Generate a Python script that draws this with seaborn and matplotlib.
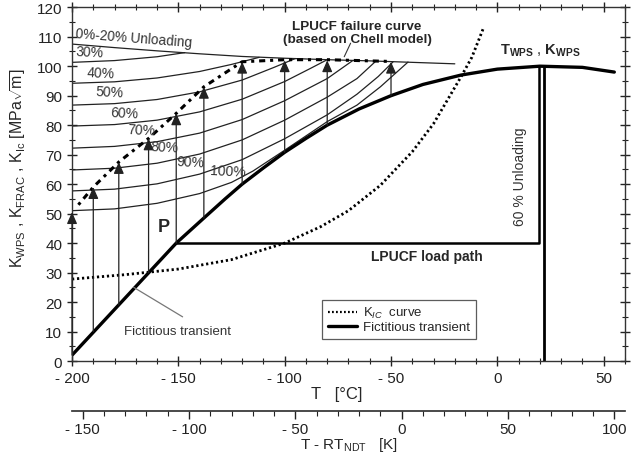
import numpy as np
import pandas as pd
import matplotlib
matplotlib.use("Agg")
import matplotlib.pyplot as plt
import seaborn as sns
from matplotlib.ticker import MultipleLocator, FuncFormatter, FixedLocator
from matplotlib.lines import Line2D

sns.set_theme(style="white")
plt.rcParams["font.family"] = ["Liberation Sans", "DejaVu Sans"]
plt.rcParams["mathtext.fontset"] = "custom"
plt.rcParams["mathtext.rm"] = "Liberation Sans"
plt.rcParams["mathtext.it"] = "Liberation Sans:italic"
plt.rcParams["mathtext.bf"] = "Liberation Sans:bold"

# ---------------- data ----------------
RT_NDT = -45.0

# fictitious transient (thick solid)
trans_T = [-200, -151, -138, -128, -120, -110, -100, -90, -80, -65, -50, -35, -17, 0, 20, 40, 55]
trans_K = [2, 40, 48.5, 55, 60, 65.5, 70.8, 75.5, 80, 85.5, 90, 93.8, 97, 99, 100, 99.6, 98]

# K_IC curve (dotted)
kic_T = [-200, -175, -150, -125, -100, -83, -70, -55, -40, -30, -17, -12, -6.5]
kic_K = [27.8, 29.3, 31.2, 34.4, 40, 45.6, 51, 59.6, 71, 80.5, 96.5, 103, 113]

# 0%-20% unloading envelope
env_T = [-200, -180, -160, -140, -120, -100, -80, -60, -40, -20]
env_K = [107.5, 106.3, 105.2, 104.2, 103.3, 102.7, 102.2, 101.8, 101.3, 100.8]

# unloading curves
u30_T = [-200, -180, -160, -147]
u30_K = [101.3, 101.9, 103.2, 104.6]
u40_T = [-200, -180, -160, -140, -125, -112]
u40_K = [94.2, 94.7, 96.0, 98.2, 100.6, 103.0]
u50_T = [-200, -180, -160, -140, -120, -105, -95]
u50_K = [86.8, 87.3, 88.7, 91.3, 95.3, 99.6, 102.6]
u60_T = [-200, -180, -160, -140, -120, -100, -88, -80]
u60_K = [79.7, 80.2, 81.7, 84.5, 88.8, 94.8, 99.2, 102.2]
u70_T = [-200, -180, -160, -140, -120, -100, -80, -68]
u70_K = [72.2, 72.8, 74.4, 77.3, 81.9, 88.3, 95.8, 101.9]
u80_T = [-200, -180, -160, -140, -120, -100, -80, -66, -57]
u80_K = [64.8, 65.4, 67.1, 70.2, 75.0, 81.7, 89.5, 95.8, 101.8]
u90_T = [-200, -180, -160, -140, -120, -100, -80, -66, -56, -49]
u90_K = [57.7, 58.3, 60.1, 63.4, 68.3, 75.4, 83.5, 90.5, 96.5, 101.5]
u100_T = [-200, -180, -160, -140, -125, -115, -100, -80, -66, -55, -42]
u100_K = [51.0, 51.6, 53.5, 56.8, 60.6, 64.4, 71.5, 81.2, 86.8, 93.0, 101.4]
unload_labels = ["30%", "40%", "50%", "60%", "70%", "80%", "90%", "100%"]
label_T = [-198.5, -193, -189, -182, -174, -163, -151, -135]
label_K = [102.2, 95.3, 88.8, 81.6, 76.0, 70.2, 65.0, 61.7]

# LPUCF failure curve (thick dotted, through arrow tips)
fail_T = [-197, -190, -178, -164, -151, -138, -120, -100, -80, -50]
fail_K = [53, 59, 67.5, 75.5, 84, 93, 101.5, 102.2, 102.2, 101.6]

# vertical arrows
arrow_T = [-200, -190, -178, -164, -151, -138, -120, -100, -80, -50]
arrow_base = [2, 10, 19, 30, 40, 48.5, 60, 70.8, 80, 90]
arrow_top = [50.5, 59, 67.5, 75.5, 84, 93, 101.5, 102, 102, 101.5]

# LPUCF load path
path_T = [-151, 19.5, 19.5]
path_K = [40, 40, 100]
# 60 % unloading (vertical)
unl_T = [22, 22]
unl_K = [100, 0]

# tick labels
t_ticks = [-200, -150, -100, -50, 0, 50]
k_ticks = [-150, -100, -50, 0, 50, 100]

# ---------------- figure ----------------
fig = plt.figure(figsize=(6.39, 4.56), dpi=100)
ax = fig.add_axes([0.1127, 0.206, 0.8653, 0.776])

def line(T, K, **kw):
    df = pd.DataFrame({"T": T, "K": K})
    sns.lineplot(data=df, x="T", y="K", ax=ax, sort=False, estimator=None,
                 legend=False, **kw)

thin = dict(color="#222222", lw=0.9)
line(env_T, env_K, **thin)
for T, K in [(u30_T, u30_K), (u40_T, u40_K), (u50_T, u50_K), (u60_T, u60_K),
             (u70_T, u70_K), (u80_T, u80_K), (u90_T, u90_K), (u100_T, u100_K)]:
    line(T, K, **thin)

line(kic_T, kic_K, color="black", lw=2.0, linestyle=(0, (0.8, 1.0)))
line(fail_T, fail_K, color="black", lw=2.2, linestyle=(0, (1.0, 1.6, 2.0, 1.6)))
line(trans_T, trans_K, color="black", lw=2.4)
line(path_T, path_K, color="black", lw=1.8)
line(unl_T, unl_K, color="black", lw=2.0)

for t, b, tp in zip(arrow_T, arrow_base, arrow_top):
    ax.annotate("", xy=(t, tp), xytext=(t, b),
                arrowprops=dict(arrowstyle="-|>,head_length=0.5,head_width=0.22",
                                color="#222222", lw=0.9,
                                mutation_scale=14, shrinkA=0, shrinkB=0))

for lab, t, k in zip(unload_labels, label_T, label_K):
    ax.text(t, k, lab, fontsize=10, color="#333333", ha="left", va="bottom",
            rotation=-3)
ax.text(-198.5, 109.0, "0%-20% Unloading", fontsize=9.8, color="#333333",
        ha="left", va="bottom", rotation=-4.5, rotation_mode="anchor")

ax.text(-66, 111.5, "LPUCF failure curve\n(based on Chell model)", fontsize=9.7,
        fontweight="bold", ha="center", va="center", linespacing=1.15)
ax.plot([-69, -72], [107.8, 103.2], color="#333333", lw=0.8)

ax.text(-157, 45.5, "P", fontsize=13, fontweight="bold", ha="center", va="center")
ax.text(-150.5, 10.2, "Fictitious transient", fontsize=9.5, color="#333333",
        ha="center", va="center")
ax.plot([-148, -171], [15, 25], color="#777777", lw=0.9)
ax.text(-33, 35.6, "LPUCF load path", fontsize=10, fontweight="bold",
        ha="center", va="center")
ax.text(10.8, 63, "60 % Unloading", fontsize=10, rotation=90, ha="center",
        va="center", color="#333333")
ax.text(20, 105.5, r"$\mathbf{T_{WPS}}$ , $\mathbf{K_{WPS}}$", fontsize=10.5,
        ha="center", va="center")

handles = [Line2D([], [], color="black", lw=1.6, linestyle=(0, (0.8, 1.0))),
           Line2D([], [], color="black", lw=2.4)]
leg = ax.legend(handles, [r"K$_{IC}$  curve", "Fictitious transient"],
                loc="lower left", bbox_to_anchor=(0.441, 0.045), fontsize=9.5,
                frameon=True, fancybox=False, edgecolor="#333333",
                handlelength=2.2, borderpad=0.4, labelspacing=0.05,
                handletextpad=0.5)
leg.get_frame().set_linewidth(0.9)

# axes
ax.set_xlim(-200, 60)
ax.set_ylim(0, 120)
fmt = FuncFormatter(lambda v, p: f"- {abs(v):g}" if v < 0 else f"{v:g}")
ax.xaxis.set_major_locator(FixedLocator(t_ticks))
ax.xaxis.set_minor_locator(MultipleLocator(10))
ax.xaxis.set_major_formatter(fmt)
ax.yaxis.set_major_locator(MultipleLocator(10))
ax.yaxis.set_minor_locator(MultipleLocator(5))
ax.tick_params(axis="both", which="both", labelsize=11, colors="#222222",
               top=True, right=True, bottom=True, left=True, direction="inout")
ax.tick_params(axis="both", which="major", length=7, width=1)
ax.tick_params(axis="both", which="minor", length=4, width=0.8)
for s in ax.spines.values():
    s.set_color("#333333")
    s.set_linewidth(1.0)
ax.set_xlabel("T   [°C]", fontsize=12)
ax.xaxis.set_label_coords(0.479, -0.07)
ax.set_ylabel(r"K$_{\rm WPS}$ , K$_{\rm FRAC}$ , K$_{\rm Ic}$ [MPa$\sqrt{\rm m}$]",
              fontsize=11.5)
ax.yaxis.set_label_coords(-0.08, 0.55)

sec = ax.secondary_xaxis(-0.141, functions=(lambda t: t - RT_NDT,
                                            lambda k: k + RT_NDT))
sec.xaxis.set_major_locator(FixedLocator(k_ticks))
sec.xaxis.set_minor_locator(FixedLocator(list(range(-150, 101, 10))))
sec.xaxis.set_major_formatter(fmt)
sec.tick_params(axis="x", which="both", labelsize=11, colors="#222222",
                direction="out", pad=2)
sec.tick_params(axis="x", which="major", length=6, width=1)
sec.tick_params(axis="x", which="minor", length=3.5, width=0.8)
sec.spines["bottom"].set_color("#333333")
sec.set_xlabel(r"T - RT$_{\rm NDT}$   [K]", fontsize=11, labelpad=-1)

fig.savefig("out.png", dpi=100)
